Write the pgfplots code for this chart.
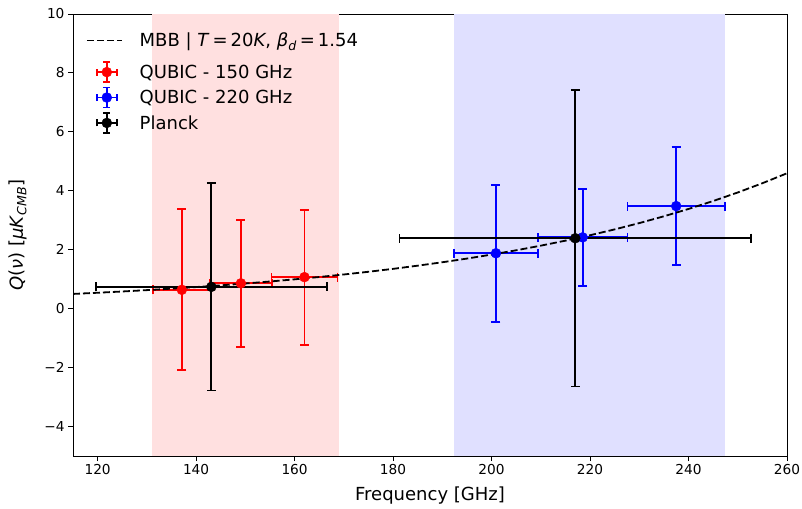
\documentclass[border=0pt]{standalone}
\usepackage{pgfplots}
\pgfplotsset{compat=1.18}
\usepackage{fontspec}
\setmainfont{DejaVu Sans}
\definecolor{bandred}{RGB}{255,224,224}
\definecolor{bandblue}{RGB}{224,224,255}
\newcommand{\tickfs}{\fontsize{13.7}{16}\selectfont}
\newcommand{\labfs}{\fontsize{18}{21}\selectfont}
\pgfplotsset{
  errleg/.style={legend image code/.code={
    \path (0pt,0pt) (35pt,0pt);
    \draw[#1, line width=1.8pt] (10pt,0pt) -- (30pt,0pt);
    \draw[#1, line width=1.8pt] (20pt,-10pt) -- (20pt,10pt);
    \draw[#1, line width=1.8pt] (10pt,-3.5pt) -- (10pt,3.5pt);
    \draw[#1, line width=1.8pt] (30pt,-3.5pt) -- (30pt,3.5pt);
    \draw[#1, line width=1.8pt] (16.5pt,10pt) -- (23.5pt,10pt);
    \draw[#1, line width=1.8pt] (16.5pt,-10pt) -- (23.5pt,-10pt);
    \fill[#1] (20pt,0pt) circle (5pt);
  }},
  errstyle/.style={#1, only marks, mark=*, mark size=5pt, errleg=#1,
    error bars/.cd, x dir=both, y dir=both, x explicit, y explicit,
    error bar style={line width=1.8pt, #1},
    error mark=|,
    error mark options={line width=1.8pt, mark size=4.5pt, #1}},
}
\begin{document}
\begin{tikzpicture}
\begin{axis}[
  scale only axis, width=714pt, height=442pt,
  xmin=115, xmax=260, ymin=-5, ymax=10,
  xtick={120,140,...,260}, ytick={-4,-2,...,10},
  yticklabels={−4,−2,0,2,4,6,8,10},
  /pgf/number format/assume math mode=true,
  ticklabel style={font=\tickfs},
  tick align=outside, xtick pos=bottom, ytick pos=left,
  major tick length=5pt,
  tick style={black, line width=0.9pt},
  axis line style={line width=0.9pt},
  xlabel={Frequency [GHz]},
  ylabel={\textit{Q}(\textit{ν}) [\textit{μK}\textsubscript{\textit{CMB}}]},
  every axis x label/.style={at={(rel axis cs:0.5,0)}, yshift=-40pt, anchor=center, font=\labfs},
  every axis y label/.style={at={(rel axis cs:0,0.5)}, xshift=-55pt, rotate=90, anchor=center, font=\labfs},
  legend style={at={(rel axis cs:0.015,0.967)}, anchor=north west, draw=none, fill=none, font=\labfs, row sep=3.6pt, column sep=15pt, inner sep=2pt},
  legend cell align=left,
  clip=true,
]
\addlegendimage{legend image code/.code={\path (0pt,-17pt) (0pt,4pt); \draw[black, line width=1.8pt, dash pattern=on 7pt off 3pt] (0pt,0pt) -- (35pt,0pt);}}
\addlegendentry{MBB | \textit{T}\,=\,20\textit{K}, \textit{β}\textsubscript{\textit{d}}\,=\,1.54}

\addplot[fill=bandred, draw=none, forget plot] coordinates {(131,-5) (131,10) (169,10) (169,-5)} -- cycle;
\addplot[fill=bandblue, draw=none, forget plot] coordinates {(192.4,-5) (192.4,10) (247.5,10) (247.5,-5)} -- cycle;

\addplot[errstyle=red] coordinates {
  (137.1,0.64) +- (5.9,2.73)
  (149.1,0.86) +- (6.3,2.15)
  (162.0,1.07) +- (6.7,2.29)
};
\addlegendentry{QUBIC - 150 GHz}

\addplot[errstyle=blue] coordinates {
  (200.9,1.88) +- (8.5,2.33)
  (218.5,2.42) +- (9.1,1.65)
  (237.5,3.48) +- (9.9,2.00)
};
\addlegendentry{QUBIC - 220 GHz}

\addplot[errstyle=black] coordinates {
  (143.1,0.74) +- (23.5,3.52)
  (217.0,2.39) +- (35.7,5.03)
};
\addlegendentry{Planck}

\addplot[black, line width=1.8pt, dash pattern=on 7pt off 3pt, no marks, forget plot]
coordinates {
(115,0.500) (120,0.540) (125,0.583) (130,0.629) (135,0.679) (140,0.733)
(145,0.791) (150,0.854) (155,0.922) (160,0.995) (165,1.074) (170,1.160)
(175,1.252) (180,1.351) (185,1.459) (190,1.575) (195,1.700) (200,1.835)
(205,1.981) (210,2.138) (215,2.308) (220,2.492) (225,2.690) (230,2.904)
(235,3.135) (240,3.384) (245,3.653) (250,3.943) (255,4.257) (260,4.595)
};
\end{axis}
\pgfresetboundingbox
\path ([xshift=-73pt,yshift=-52pt]current axis.south west) rectangle ([xshift=15pt,yshift=14pt]current axis.north east);
\end{tikzpicture}
\end{document}
